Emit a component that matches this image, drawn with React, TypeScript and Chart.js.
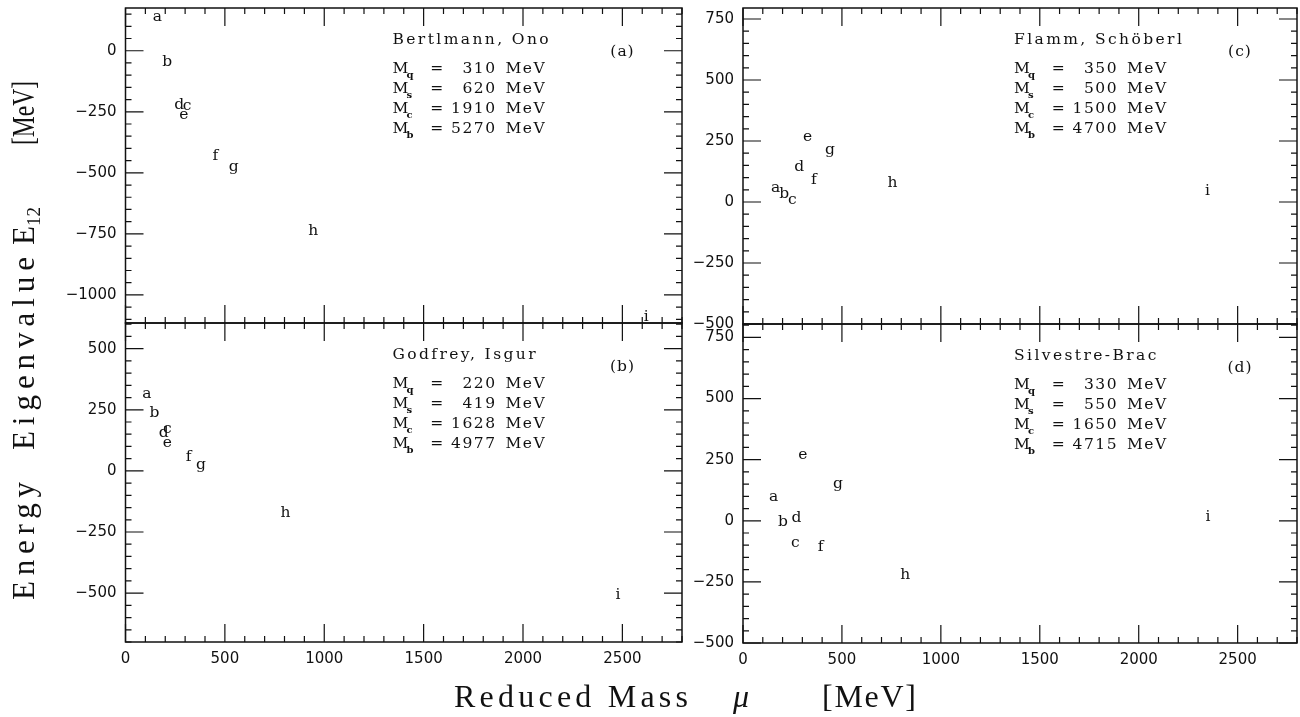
import React, { useEffect, useRef } from "react";
import { Chart, registerables } from "chart.js";

Chart.register(...registerables);

// point labels (a..i) and their reduced masses / energy eigenvalues
const LETTERS = ["a", "b", "c", "d", "e", "f", "g", "h", "i"];

// (a) Bertlmann, Ono
const MU_A = [160, 210, 310, 270, 293, 452, 545, 945, 2620];
const E_A = [138, -48, -228, -222, -263, -430, -475, -738, -1092];
// (b) Godfrey, Isgur
const MU_B = [108, 146, 210, 192, 210, 318, 380, 805, 2478];
const E_B = [314, 237, 171, 155, 115, 58, 24, -173, -506];
// (c) Flamm, Schöberl
const MU_C = [165, 208, 250, 284, 326, 358, 440, 755, 2348];
const E_C = [58, 33, 9, 142, 267, 92, 212, 78, 44];
// (d) Silvestre-Brac
const MU_D = [155, 202, 265, 270, 302, 392, 480, 820, 2350];
const E_D = [96, -3, -92, 11, 270, -109, 152, -222, 15];

const FLAVOURS = ["q", "s", "c", "b"];
const MASSES_A = [310, 620, 1910, 5270];
const MASSES_B = [220, 419, 1628, 4977];
const MASSES_C = [350, 500, 1500, 4700];
const MASSES_D = [330, 550, 1650, 4715];

const TITLES = ["Bertlmann, Ono", "Godfrey, Isgur", "Flamm, Schöberl", "Silvestre-Brac"];
const TAGS = ["(a)", "(b)", "(c)", "(d)"];

const X_TICKS = [0, 500, 1000, 1500, 2000, 2500];
const Y_TICKS_A = [-1000, -750, -500, -250, 0];
const Y_TICKS_B = [-500, -250, 0, 250, 500];
const Y_TICKS_C = [-500, -250, 0, 250, 500, 750];
const Y_TICKS_D = [-500, -250, 0, 250, 500, 750];

const X_MIN = 0;
const X_MAX = 2800;
const X_MAJOR = 500;
const X_MINOR = 100;
const Y_MAJOR = 250;
const Y_MINOR = 50;
const Y_RANGE_A = [-1115, 175];
const Y_RANGE_B = [-700, 605];
const Y_RANGE_C = [-500, 795];
const Y_RANGE_D = [-500, 805];

const W = 1300;
const H = 717;
const YW = 60;
const XH = 40;
const INK = "#111";

type Panel = {
  mu: number[];
  e: number[];
  masses: number[];
  title: string;
  tag: string;
  yRange: number[];
  yTicks: number[];
  rect: { l: number; t: number; r: number; b: number };
  showX: boolean;
  noteX: number;
};

const PANELS: Panel[] = [
  { mu: MU_A, e: E_A, masses: MASSES_A, title: TITLES[0], tag: TAGS[0], yRange: Y_RANGE_A, yTicks: Y_TICKS_A,
    rect: { l: 125.5, t: 8, r: 682, b: 323 }, showX: false, noteX: 267 },
  { mu: MU_B, e: E_B, masses: MASSES_B, title: TITLES[1], tag: TAGS[1], yRange: Y_RANGE_B, yTicks: Y_TICKS_B,
    rect: { l: 125.5, t: 323, r: 682, b: 642 }, showX: true, noteX: 267 },
  { mu: MU_C, e: E_C, masses: MASSES_C, title: TITLES[2], tag: TAGS[2], yRange: Y_RANGE_C, yTicks: Y_TICKS_C,
    rect: { l: 743, t: 8, r: 1297, b: 324 }, showX: false, noteX: 271 },
  { mu: MU_D, e: E_D, masses: MASSES_D, title: TITLES[3], tag: TAGS[3], yRange: Y_RANGE_D, yTicks: Y_TICKS_D,
    rect: { l: 743, t: 324, r: 1297, b: 643 }, showX: true, noteX: 271 },
];

const fmt = (v: number) => (v < 0 ? "\u2212" + Math.abs(v) : String(v));

const framePlugin = {
  id: "frameTicks",
  afterDraw(chart: any) {
    const { ctx, chartArea: a, scales } = chart;
    const x = scales.x;
    const y = scales.y;
    ctx.save();
    ctx.strokeStyle = INK;
    ctx.lineWidth = 1.2;
    ctx.beginPath();
    for (let v = Math.ceil(x.min / X_MINOR) * X_MINOR; v <= x.max + 1e-6; v += X_MINOR) {
      const px = x.getPixelForValue(v);
      const len = v % X_MAJOR === 0 ? 18 : 6;
      ctx.moveTo(px, a.bottom);
      ctx.lineTo(px, a.bottom - len);
      ctx.moveTo(px, a.top);
      ctx.lineTo(px, a.top + len);
    }
    for (let v = Math.ceil(y.min / Y_MINOR) * Y_MINOR; v <= y.max + 1e-6; v += Y_MINOR) {
      const py = y.getPixelForValue(v);
      const len = v % Y_MAJOR === 0 ? 18 : 6;
      ctx.moveTo(a.left, py);
      ctx.lineTo(a.left + len, py);
      ctx.moveTo(a.right, py);
      ctx.lineTo(a.right - len, py);
    }
    ctx.stroke();
    ctx.lineWidth = 1.5;
    ctx.strokeRect(a.left, a.top, a.right - a.left, a.bottom - a.top);
    ctx.restore();
  },
};

const letterPlugin = {
  id: "letterMarks",
  afterDatasetsDraw(chart: any) {
    const { ctx } = chart;
    const meta = chart.getDatasetMeta(0);
    ctx.save();
    ctx.fillStyle = INK;
    ctx.font = '15.5px "DejaVu Serif"';
    ctx.textAlign = "center";
    ctx.textBaseline = "alphabetic";
    meta.data.forEach((el: any, i: number) => {
      ctx.fillText(LETTERS[i], el.x, el.y + 4);
    });
    ctx.restore();
  },
};

const notePlugin = {
  id: "panelNote",
  afterDraw(chart: any, _args: any, opts: any) {
    const { ctx, chartArea: a } = chart;
    const x0 = a.left + opts.noteX;
    ctx.save();
    ctx.fillStyle = INK;
    ctx.textBaseline = "alphabetic";
    ctx.font = '15.5px "DejaVu Serif"';
    (ctx as any).letterSpacing = "2.4px";
    ctx.textAlign = "left";
    ctx.fillText(opts.title, x0, a.top + 36);
    (ctx as any).letterSpacing = "1px";
    ctx.textAlign = "center";
    ctx.textBaseline = "middle";
    ctx.fillText(opts.tag, a.left + 497, a.top + 44);
    ctx.textBaseline = "alphabetic";
    opts.masses.forEach((m: number, i: number) => {
      const bl = a.top + 64.5 + 20 * i;
      ctx.font = '15.5px "DejaVu Serif"';
      (ctx as any).letterSpacing = "1.5px";
      ctx.textAlign = "left";
      ctx.fillText("M", x0, bl);
      ctx.textAlign = "center";
      ctx.fillText("=", x0 + 45, bl);
      ctx.textAlign = "right";
      ctx.fillText(String(m), x0 + 104, bl);
      ctx.textAlign = "left";
      ctx.fillText("MeV", x0 + 113, bl);
      ctx.font = 'bold 10px "DejaVu Serif"';
      (ctx as any).letterSpacing = "0px";
      ctx.fillText(FLAVOURS[i], x0 + 14, bl + 5);
    });
    ctx.restore();
  },
};

function makeChart(canvas: HTMLCanvasElement, p: Panel) {
  const { l, t, r, b } = p.rect;
  const tickFont = { family: "DejaVu Sans", size: 15 };
  return new Chart(canvas, {
    type: "scatter",
    data: {
      datasets: [
        {
          data: p.mu.map((m, i) => ({ x: m, y: p.e[i] })),
          pointRadius: 0,
          pointHoverRadius: 0,
          showLine: false,
        },
      ],
    },
    options: {
      animation: false,
      responsive: false,
      events: [],
      layout: {
        padding: { left: l - YW, top: t, right: W - r, bottom: H - b - XH },
      },
      plugins: {
        legend: { display: false },
        tooltip: { enabled: false },
        panelNote: { title: p.title, tag: p.tag, masses: p.masses, noteX: p.noteX },
      } as any,
      scales: {
        x: {
          type: "linear",
          min: X_MIN,
          max: X_MAX,
          grid: { display: false, drawTicks: false },
          border: { display: false },
          afterBuildTicks: (s: any) => {
            s.ticks = X_TICKS.map((v) => ({ value: v }));
          },
          ticks: {
            display: p.showX,
            autoSkip: false,
            maxRotation: 0,
            padding: 8,
            color: INK,
            font: tickFont,
            callback: (v: any) => fmt(Number(v)),
          },
          afterFit: (s: any) => {
            s.height = XH;
            s.paddingLeft = 0;
            s.paddingRight = 0;
          },
        },
        y: {
          type: "linear",
          min: p.yRange[0],
          max: p.yRange[1],
          grid: { display: false, drawTicks: false },
          border: { display: false },
          afterBuildTicks: (s: any) => {
            s.ticks = p.yTicks.map((v) => ({ value: v }));
          },
          ticks: {
            autoSkip: false,
            padding: 9,
            color: INK,
            font: tickFont,
            callback: (v: any) => fmt(Number(v)),
          },
          afterFit: (s: any) => {
            s.width = YW;
            s.paddingTop = 0;
            s.paddingBottom = 0;
          },
        },
      },
    } as any,
    plugins: [framePlugin, letterPlugin, notePlugin],
  });
}

export default function App() {
  const refs = [
    useRef<HTMLCanvasElement>(null),
    useRef<HTMLCanvasElement>(null),
    useRef<HTMLCanvasElement>(null),
    useRef<HTMLCanvasElement>(null),
  ];
  useEffect(() => {
    const charts = PANELS.map((p, i) => makeChart(refs[i].current as HTMLCanvasElement, p));
    return () => charts.forEach((c) => c.destroy());
  }, []);

  return (
    <div style={{ position: "absolute", left: 0, top: 0, width: W, height: H, background: "#fff", overflow: "hidden" }}>
      {refs.map((r, i) => (
        <canvas
          key={i}
          ref={r}
          width={W}
          height={H}
          style={{ position: "absolute", left: 0, top: 0, width: W, height: H }}
        />
      ))}
      <svg width={W} height={H} style={{ position: "absolute", left: 0, top: 0, pointerEvents: "none" }}>
        <g transform="translate(34,600) rotate(-90)" fontFamily="Liberation Serif" fontSize={31} fill={INK}>
          <text x={0} y={0} textLength={118} lengthAdjust="spacing">Energy</text>
          <text x={150} y={0} textLength={193} lengthAdjust="spacing">Eigenvalue</text>
          <text x={355} y={0}>E</text>
          <text x={374} y={6} fontSize={19}>12</text>
          <text x={455} y={0} textLength={64} lengthAdjust="spacingAndGlyphs">[MeV]</text>
        </g>
        <g fontFamily="Liberation Serif" fontSize={32} fill={INK}>
          <text x={454} y={707} textLength={234} lengthAdjust="spacing">Reduced Mass</text>
          <text x={733} y={707} fontStyle="italic">μ</text>
          <text x={822} y={707} textLength={94} lengthAdjust="spacing">[MeV]</text>
        </g>
      </svg>
    </div>
  );
}
